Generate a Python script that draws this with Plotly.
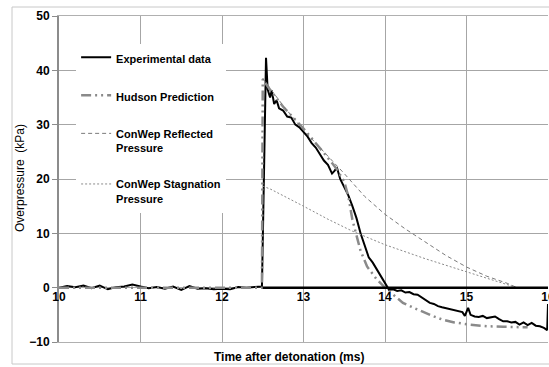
import plotly.graph_objects as go

# ---------------- data ----------------
exp_t = [10.0, 10.1, 10.2, 10.3, 10.4, 10.5, 10.6, 10.7, 10.8, 10.9, 11.0, 11.1, 11.2, 11.3, 11.4,
         11.5, 11.6, 11.7, 11.8, 11.9, 12.0, 12.1, 12.2, 12.3, 12.4, 12.49, 12.52, 12.54, 12.56,
         12.59, 12.61, 12.64, 12.67, 12.7, 12.75, 12.8, 12.85, 12.9, 12.95, 13.0, 13.05, 13.1,
         13.15, 13.2, 13.25, 13.3, 13.35, 13.38, 13.41, 13.45, 13.5, 13.55, 13.6, 13.65, 13.7,
         13.75, 13.8, 13.85, 13.9, 13.95, 14.0, 14.05, 14.1, 14.15, 14.2, 14.25, 14.3, 14.35,
         14.4, 14.45, 14.5, 14.55, 14.6, 14.65, 14.7, 14.75, 14.8, 14.85, 14.9, 14.95, 14.98,
         15.02, 15.05, 15.1, 15.15, 15.2, 15.25, 15.3, 15.35, 15.4, 15.45, 15.5, 15.55, 15.6,
         15.65, 15.7, 15.75, 15.8, 15.85, 15.9, 15.95, 15.99, 16.0]
exp_p = [0.0, 0.3, 0.1, 0.4, -0.1, 0.4, -0.3, 0.1, 0.2, 0.6, 0.2, -0.1, 0.1, -0.2, 0.2,
         -0.4, 0.3, -0.2, -0.1, -0.3, -0.2, -0.3, 0.1, 0.0, 0.1, 0.2, 25.0, 42.3, 36.5,
         35.0, 36.3, 33.8, 34.5, 33.0, 32.6, 31.5, 31.3, 30.0, 29.5, 28.7, 27.8, 26.6,
         25.8, 24.6, 23.4, 22.6, 21.0, 21.5, 22.1, 20.0, 18.6, 17.0, 15.0, 12.8, 10.0,
         7.8, 5.6, 4.6, 3.4, 2.2, 0.9, -0.4, -0.3, -0.6, -0.5, -0.9, -0.8, -1.2,
         -1.3, -1.8, -2.3, -2.8, -3.0, -3.4, -3.6, -3.8, -4.0, -4.2, -4.3, -4.5, -5.2,
         -3.7, -5.0, -5.3, -5.4, -5.2, -5.6, -5.5, -5.3, -5.8, -6.2, -6.2, -6.4, -6.3,
         -6.8, -6.4, -6.9, -6.5, -7.0, -7.1, -7.4, -7.8, -3.0]

hud_t = [10.0, 12.49, 12.5, 12.6, 12.75, 13.0, 13.25, 13.4, 13.5, 13.55, 13.6, 13.65, 13.7,
         13.78, 13.9, 14.0, 14.1, 14.22, 14.35, 14.47, 14.6, 14.71, 14.85, 15.04, 15.25,
         15.45, 15.75]
hud_p = [0.0, 0.0, 38.4, 36.2, 33.3, 29.3, 24.8, 22.0, 19.5, 16.8, 12.5, 9.5, 6.8,
         3.9, 1.5, 0.0, -1.3, -2.8, -3.7, -4.5, -5.3, -5.9, -6.4, -6.8, -7.1,
         -7.2, -7.3]

ref_t = [12.5, 12.75, 13.0, 13.25, 13.5, 13.75, 14.0, 14.25, 14.5, 14.75, 15.0, 15.25, 15.5, 15.62]
ref_p = [38.5, 33.5, 29.0, 25.0, 21.0, 16.8, 13.5, 10.8, 8.3, 5.9, 3.8, 2.1, 0.8, 0.0]

stag_t = [12.5, 12.6, 13.0, 13.3, 13.6, 14.0, 14.5, 15.0, 15.3, 15.62]
stag_p = [18.7, 18.1, 15.0, 12.6, 10.4, 7.9, 5.3, 3.0, 1.5, 0.0]

base_t = [12.5, 16.0]
base_p = [0.0, 0.0]

x_ticks = [10, 11, 12, 13, 14, 15, 16]
y_ticks = [-10, 0, 10, 20, 30, 40, 50]

FONT = "Liberation Sans, Arial, sans-serif"

fig = go.Figure()
fig.add_trace(go.Scatter(x=exp_t, y=exp_p, mode="lines", name="Experimental data",
                         line=dict(color="black", width=2), legendgroup="a"))
fig.add_trace(go.Scatter(x=hud_t, y=hud_p, mode="lines", name="Hudson Prediction",
                         line=dict(color="#8a8a8a", width=2.5, dash="10px,4px,2px,4px,2px,4px"),
                         legendgroup="b"))
fig.add_trace(go.Scatter(x=ref_t, y=ref_p, mode="lines", name="ConWep Reflected<br>Pressure",
                         line=dict(color="#7a7a7a", width=1, dash="4px,3px"), legendgroup="c"))
fig.add_trace(go.Scatter(x=stag_t, y=stag_p, mode="lines", name="ConWep Stagnation<br>Pressure",
                         line=dict(color="#8a8a8a", width=1, dash="2px,2px"), legendgroup="d"))
fig.add_trace(go.Scatter(x=base_t, y=base_p, mode="lines", showlegend=False,
                         line=dict(color="black", width=2.5), xaxis="x2", yaxis="y"))

fig.update_layout(
    template="none",
    width=549, height=367,
    margin=dict(l=59, r=1, t=16, b=25),
    paper_bgcolor="white", plot_bgcolor="white",
    font=dict(family=FONT, size=11, color="black", weight="bold"),
    xaxis=dict(range=[10, 16], tickvals=x_ticks, showticklabels=False, showgrid=True,
               gridcolor="#a6a6a6", gridwidth=1, zeroline=False, showline=True,
               linecolor="#b0b0b0", linewidth=1, mirror=True, ticks="", automargin=False,
               title=None),
    xaxis2=dict(range=[10, 16], tickvals=x_ticks, overlaying="x", anchor="free",
                position=1 / 6, showgrid=False, zeroline=False, showline=False, ticks="",
                automargin=False, ticklabeloverflow="allow",
                tickfont=dict(family=FONT, size=12, weight="bold")),
    yaxis=dict(range=[-10, 50], tickvals=y_ticks, showgrid=True, gridcolor="#a6a6a6",
               gridwidth=1, zeroline=False, showline=True, linecolor="#8c8c8c", linewidth=2,
               ticks="outside", ticklen=5, tickcolor="#8c8c8c", automargin=False,
               tickfont=dict(family=FONT, size=12, weight="bold"), title=None),
    legend=dict(x=0.035, y=0.915, xanchor="left", yanchor="top", bgcolor="white",
                borderwidth=0, tracegroupgap=19, valign="top",
                font=dict(family=FONT, size=11, weight="bold")),
    showlegend=True,
)

fig.add_annotation(text="Time after detonation (ms)", xref="paper", yref="paper",
                   x=(289 - 59) / 489, y=(342 - 357) / 326, showarrow=False,
                   font=dict(family=FONT, size=12, weight="bold"),
                   xanchor="center", yanchor="middle")
fig.add_annotation(text="Overpressure  (kPa)", xref="paper", yref="paper",
                   x=(20 - 59) / 489, y=(342 - 178) / 326, showarrow=False, textangle=-90,
                   font=dict(family=FONT, size=12, weight="normal"),
                   xanchor="center", yanchor="middle")

fig.add_shape(type="rect", xref="paper", yref="paper",
              x0=(12 - 59) / 489, x1=1.2, y0=(342 - 364) / 326, y1=(342 - 7) / 326,
              line=dict(color="#c8c8c8", width=1), layer="below")

fig.write_html("out.html")
